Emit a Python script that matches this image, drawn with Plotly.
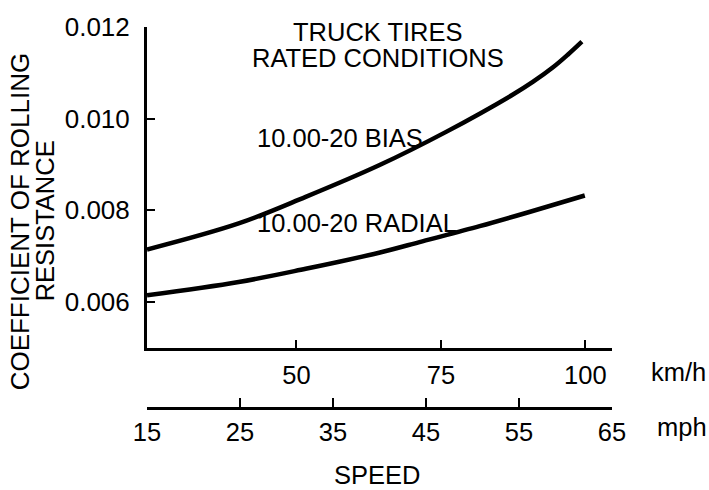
import plotly.graph_objects as go

# ---- data ----
speed_kmh_bias = [24.14, 40.0, 51.6, 64.3, 75.9, 87.4, 90.9, 94.4, 97.0, 99.4]
crr_bias = [0.00714, 0.00771, 0.00829, 0.00898, 0.00971, 0.01052, 0.01080, 0.01112, 0.01140, 0.01168]

speed_kmh_radial = [24.14, 40.0, 51.6, 64.3, 71.8, 81.7, 90.3, 99.9]
crr_radial = [0.00614, 0.00643, 0.00672, 0.00707, 0.00732, 0.00765, 0.00796, 0.00832]

kmh_ticks = [50, 75, 100]
mph_ticks = [15, 25, 35, 45, 55, 65]
y_ticks = [0.006, 0.008, 0.010, 0.012]
y_ticktext = ["0.006", "0.008", "0.010", "0.012"]

series_labels = ["10.00-20 BIAS", "10.00-20 RADIAL"]
title_lines = ["TRUCK TIRES", "RATED CONDITIONS"]
ytitle_lines = ["COEFFICIENT OF ROLLING", "RESISTANCE"]

MPH_TO_KMH = 1.609344
mph_range = [15, 65]
kmh_range = [mph_range[0] * MPH_TO_KMH, mph_range[1] * MPH_TO_KMH]

FONT = "Liberation Sans, Arial, Helvetica, sans-serif"
FS = 25.5
TFS = 26

fig = go.Figure()
fig.add_trace(go.Scatter(x=speed_kmh_bias, y=crr_bias, mode="lines",
                         line=dict(color="black", width=4.5, shape="spline", smoothing=1.0),
                         showlegend=False, hoverinfo="skip", cliponaxis=False))
fig.add_trace(go.Scatter(x=speed_kmh_radial, y=crr_radial, mode="lines",
                         line=dict(color="black", width=4.5, shape="spline", smoothing=1.0),
                         showlegend=False, hoverinfo="skip", cliponaxis=False))
# invisible trace to activate the mph axis
fig.add_trace(go.Scatter(x=mph_range, y=[0.0055, 0.0055], xaxis="x2", yaxis="y",
                         mode="markers", marker=dict(opacity=0),
                         showlegend=False, hoverinfo="skip"))

# pixel geometry helpers
L, R, T, B = 147, 612.3, 20, 408.3
W, H = 709, 490
def xp(px):
    return (px - L) / (R - L)
def yp(py):
    return (B - py) / (B - T)

ydom_bottom = yp(346.7)

fig.update_layout(
    width=W, height=H,
    margin=dict(l=L, r=W - R, t=T, b=H - B, pad=0),
    paper_bgcolor="white", plot_bgcolor="white",
    font=dict(family=FONT, size=FS, color="black"),
    xaxis=dict(range=kmh_range, tickvals=kmh_ticks, ticktext=[str(v) for v in kmh_ticks],
               ticks="inside", ticklen=8, tickwidth=2, tickcolor="black",
               showline=True, linewidth=2.5, linecolor="black",
               showgrid=False, zeroline=False, anchor="y",
               ticklabelstandoff=3,
               tickfont=dict(family=FONT, size=FS, color="black")),
    xaxis2=dict(range=mph_range, tickvals=mph_ticks, ticktext=[str(v) for v in mph_ticks],
                overlaying="x", anchor="free", position=0, side="bottom",
                ticks="inside", ticklen=9, tickwidth=2, tickcolor="black",
                showline=True, linewidth=2.5, linecolor="black",
                showgrid=False, zeroline=False,
                ticklabelstandoff=1,
                tickfont=dict(family=FONT, size=FS, color="black")),
    yaxis=dict(range=[0.005, 0.012], domain=[ydom_bottom, 1],
               tickvals=y_ticks, ticktext=y_ticktext,
               ticks="inside", ticklen=8, tickwidth=2, tickcolor="black",
               showline=True, linewidth=3, linecolor="black",
               showgrid=False, zeroline=False,
               ticklabelstandoff=9,
               tickfont=dict(family=FONT, size=TFS, color="black")),
)

def ann(text, x, y, xanchor="center", yanchor="middle", angle=0, size=FS):
    fig.add_annotation(text=text, x=x, y=y, xref="paper", yref="paper",
                       xanchor=xanchor, yanchor=yanchor, showarrow=False,
                       textangle=angle, font=dict(family=FONT, size=size, color="black"))

ann(title_lines[0], xp(378.3), yp(25))
ann(title_lines[1], xp(378.0), yp(52))
ann(series_labels[0], xp(255), yp(133), xanchor="left")
ann(series_labels[1], xp(255), yp(220), xanchor="left")
ann(ytitle_lines[0], xp(20), yp(218), angle=-90, size=26)
ann(ytitle_lines[1], xp(45), yp(218), angle=-90)
ann("km/h", xp(679), yp(372))
ann("mph", xp(682), yp(428))
ann("SPEED", xp(376.7), yp(477))

fig.write_html("out.html",
               config={"displayModeBar": False},
               post_script="document.body.style.margin='0px';document.body.style.overflow='hidden';")
